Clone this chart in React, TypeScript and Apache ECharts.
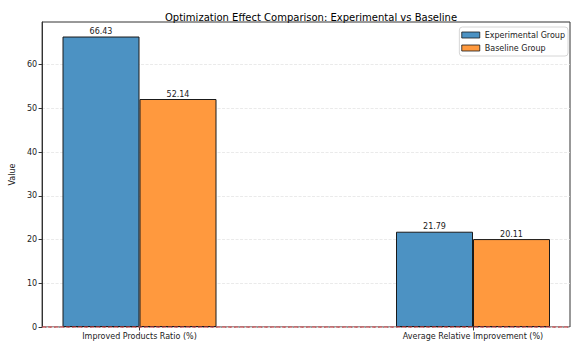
import React, { useEffect, useRef } from "react";
import * as echarts from "echarts";

const categories = ["Improved Products Ratio (%)", "Average Relative Improvement (%)"];
const experimental = [66.43, 21.79];
const baseline = [52.14, 20.11];
const seriesNames = ["Experimental Group", "Baseline Group"];
const yTicks = [0, 10, 20, 30, 40, 50, 60];
const zeroLine = [[0, 0], [1, 0]];

const FONT = "DejaVu Sans";
const Y_MAX = 69.75;

export default function App() {
  const ref = useRef<HTMLDivElement>(null);
  useEffect(() => {
    if (!ref.current) return;
    const chart = echarts.init(ref.current, undefined, { renderer: "svg" });
    const label = {
      show: true,
      position: "top" as const,
      distance: 1,
      fontSize: 8,
      fontFamily: FONT,
      color: "#222",
    };
    chart.setOption({
      animation: false,
      textStyle: { fontFamily: FONT },
      title: {
        text: "Optimization Effect Comparison: Experimental vs Baseline",
        left: 306,
        top: 7,
        textAlign: "center",
        textStyle: { fontSize: 10, fontWeight: "normal", color: "#000", fontFamily: FONT },
      },
      legend: {
        orient: "vertical",
        right: 3,
        top: 27,
        itemWidth: 18,
        itemHeight: 6,
        itemGap: 5,
        icon: "rect",
        padding: [4, 3, 4, 2],
        backgroundColor: "#fff",
        borderColor: "#d6d6d6",
        borderWidth: 1,
        borderRadius: 3,
        itemStyle: { borderWidth: 0.8, borderColor: "#1a1a1a" },
        textStyle: { fontSize: 8, color: "#222", fontFamily: FONT },
        data: seriesNames,
      },
      grid: [
        { left: 37, right: 1, top: 22, bottom: 18, show: true, borderColor: "#333", borderWidth: 1 },
        { left: 139.5, right: 98, top: 22, bottom: 18 },
      ],
      xAxis: [
        {
          gridIndex: 0,
          type: "value",
          min: 0,
          max: 1,
          axisLine: { show: false },
          axisTick: { show: false },
          axisLabel: { show: false },
          splitLine: { show: false },
        },
        {
          gridIndex: 1,
          type: "category",
          boundaryGap: false,
          data: categories,
          axisLine: { show: false },
          axisTick: { show: true, length: 3.5, lineStyle: { color: "#333" } },
          axisLabel: { fontSize: 8, color: "#222", margin: 5, fontFamily: FONT, interval: 0 },
          splitLine: { show: false },
        },
      ],
      yAxis: [
        {
          gridIndex: 0,
          type: "value",
          min: 0,
          max: Y_MAX,
          interval: 10,
          name: "Value",
          nameLocation: "middle",
          nameGap: 24,
          nameTextStyle: { fontSize: 8, color: "#222", fontFamily: FONT },
          axisLine: { show: true, onZero: false, lineStyle: { color: "#333" } },
          axisTick: { show: true, length: 3.5, customValues: yTicks, lineStyle: { color: "#333" } },
          axisLabel: { fontSize: 8, color: "#222", margin: 5, fontFamily: FONT, customValues: yTicks },
          splitLine: { show: true, lineStyle: { color: "#e4e4e4", type: [3, 1.5], width: 0.8 } },
        },
        {
          gridIndex: 1,
          type: "value",
          min: 0,
          max: Y_MAX,
          axisLine: { show: false },
          axisTick: { show: false },
          axisLabel: { show: false },
          splitLine: { show: false },
        },
      ],
      series: [
        {
          name: seriesNames[0],
          type: "bar",
          xAxisIndex: 1,
          yAxisIndex: 1,
          clip: false,
          barWidth: 77,
          barGap: "0%",
          data: experimental,
          itemStyle: { color: "#4c92c3", borderColor: "#1a1a1a", borderWidth: 1 },
          label,
        },
        {
          name: seriesNames[1],
          type: "bar",
          xAxisIndex: 1,
          yAxisIndex: 1,
          clip: false,
          barWidth: 77,
          barGap: "0%",
          data: baseline,
          itemStyle: { color: "#ff993e", borderColor: "#1a1a1a", borderWidth: 1 },
          label,
        },
        {
          name: "zero",
          type: "line",
          xAxisIndex: 0,
          yAxisIndex: 0,
          data: zeroLine,
          z: 10,
          symbol: "none",
          clip: false,
          silent: true,
          lineStyle: { color: "#e0474c", type: [4, 2], width: 1 },
        },
      ],
    });
    return () => chart.dispose();
  }, []);
  return <div ref={ref} style={{ width: 571, height: 345, position: "absolute", left: 0, top: 0 }} />;
}
